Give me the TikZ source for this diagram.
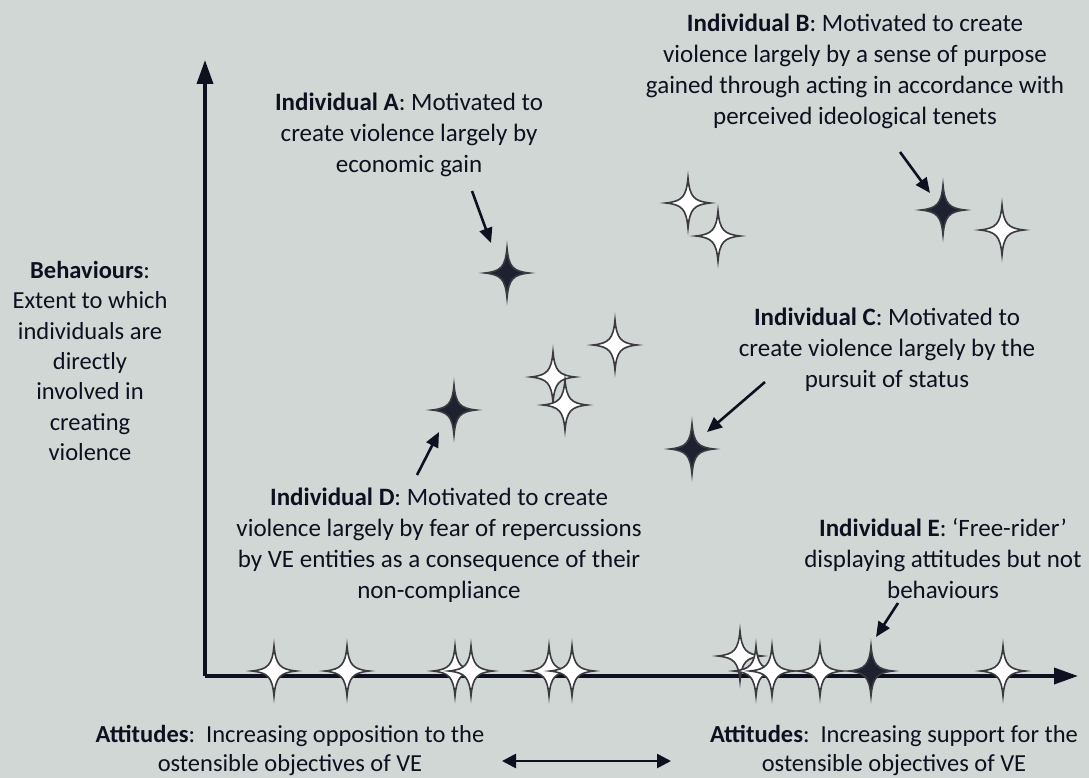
\documentclass[tikz,border=0pt]{standalone}
\usepackage{fontspec}
\setmainfont{Carlito}
\usetikzlibrary{arrows.meta}
\definecolor{bgc}{RGB}{209,215,213}
\definecolor{ink}{RGB}{14,16,32}
\definecolor{starline}{RGB}{58,58,64}
\definecolor{stardark}{RGB}{30,34,48}
\tikzset{
  spark/.pic={\path[pic actions] (0,-25) .. controls (1.8,-6) and (6,-1.8) .. (22,0)
     .. controls (6,1.8) and (1.8,6) .. (0,25)
     .. controls (-1.8,6) and (-6,1.8) .. (-22,0)
     .. controls (-6,-1.8) and (-1.8,-6) .. cycle;},
  lightstar/.style={fill=white, draw=starline, line width=1.6pt},
  darkstar/.style={fill=stardark, draw=starline, line width=1.6pt},
  label/.style={align=center, text=ink, inner sep=0pt,
    font=\fontsize{25}{31}\selectfont},
  callout/.style={draw=ink, line width=2.6pt, -{Triangle[length=15pt,width=13pt]}},
  axis/.style={draw=ink, line width=3.6pt, -{Triangle[length=24pt,width=16pt]}},
}
\begin{document}
\begin{tikzpicture}[x=1pt,y=-1pt]
\useasboundingbox[fill=bgc] (0,0) rectangle (1089,778);

% axes
\coordinate (origin) at (205,676);
\coordinate (ytop) at (205,60);
\coordinate (xend) at (1078,676);
\draw[axis] (origin) -- (ytop);
\draw[axis] (origin) -- (xend);

% individuals
\foreach \p in {(688,203),(718,236),(1002,230),(615,345),(553,377),(565,405),(740,656),
  (274,671),(347,671),(455,671),(471,671),(549,671),(572,671),
  (756,671),(772,671),(820,671),(1003,671)}
  \pic[lightstar] at \p {spark};
\foreach \p in {(507,273),(943,210),(454,410),(692,449),(871,671)}
  \pic[darkstar] at \p {spark};

% descriptions
\node[label] (indA) at (409,135) {\textbf{Individual A}: Motivated to\\create violence largely by\\economic gain};
\node[label] (indB) at (855,71) {\textbf{Individual B}: Motivated to create\\violence largely by a sense of purpose\\gained through acting in accordance with\\perceived ideological tenets};
\node[label] (indC) at (887,350) {\textbf{Individual C}: Motivated to\\create violence largely by the\\pursuit of status};
\node[label] (indD) at (439,545) {\textbf{Individual D}: Motivated to create\\violence largely by fear of repercussions\\by VE entities as a consequence of their\\non-compliance};
\node[label] (indE) at (943,559) {\textbf{Individual E}: `Free-rider'\\displaying attitudes but not\\behaviours};
\node[label, font=\fontsize{24.5}{30.3}\selectfont] (beh) at (90,361) {\textbf{Behaviours}:\\Extent to which\\individuals are\\directly\\involved in\\creating\\violence};
\node[label, font=\fontsize{24.5}{29}\selectfont] (attL) at (290,750) {\textbf{Attitudes}:\hspace{0.45em}Increasing opposition to the\\ostensible objectives of VE};
\node[label, font=\fontsize{24.5}{29}\selectfont] (attR) at (894,750) {\textbf{Attitudes}:\hspace{0.45em}Increasing support for the\\ostensible objectives of VE};

% pointers
\coordinate (aS) at (472,191); \coordinate (aE) at (491,243);
\coordinate (bS) at (900,152); \coordinate (bE) at (930,193);
\coordinate (cS) at (765,382); \coordinate (cE) at (707,432);
\coordinate (dS) at (417,475); \coordinate (dE) at (439,432);
\coordinate (eS) at (898,603); \coordinate (eE) at (876,637);
\draw[callout] (aS) -- (aE);
\draw[callout] (bS) -- (bE);
\draw[callout] (cS) -- (cE);
\draw[callout] (dS) -- (dE);
\draw[callout] (eS) -- (eE);

% attitude scale
\coordinate (scaleL) at (502,761);
\coordinate (scaleR) at (671,761);
\draw[draw=ink, line width=2.6pt, {Triangle[length=14pt,width=14pt]}-{Triangle[length=14pt,width=14pt]}] (scaleL) -- (scaleR);
\end{tikzpicture}
\end{document}
